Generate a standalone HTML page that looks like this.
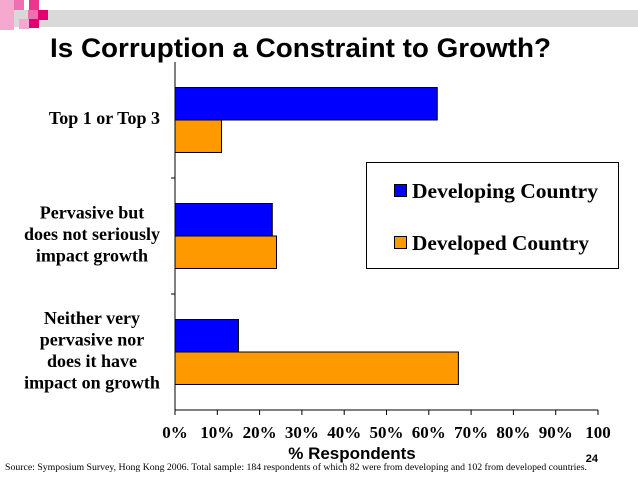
<!DOCTYPE html>
<html><head><meta charset="utf-8"><style>
body{margin:0;background:#fff;width:638px;height:479px;overflow:hidden}
svg{display:block}
</style></head><body>
<svg id="c" width="638" height="479" xmlns="http://www.w3.org/2000/svg">
<g>
<rect x="10" y="10" width="628" height="17" fill="#d9d9d9"/>
<rect x="0" y="0" width="14" height="30" fill="#f7a8cf"/>
<rect x="14" y="0" width="10" height="10" fill="#f06fb0"/>
<rect x="29" y="0" width="10" height="10" fill="#e8378f"/>
<rect x="28" y="10" width="10" height="10" fill="#f06fb0"/>
<rect x="38" y="10" width="10" height="10" fill="#e0006f"/>
<rect x="19" y="19" width="10" height="10" fill="#f7a8cf"/>
<rect x="29" y="19" width="10" height="9" fill="#e0006f"/>
</g>
<text x="50" y="57" font-family="Liberation Sans, sans-serif" font-weight="bold" font-size="27" textLength="501" lengthAdjust="spacingAndGlyphs" fill="#000">Is Corruption a Constraint to Growth?</text>
<g id="plot"></g>
<g>
<rect x="366.5" y="162.5" width="252" height="106" fill="#fff" stroke="#000"/>
<rect x="394.5" y="184.5" width="12" height="12" fill="#0000ff" stroke="#000"/>
<text x="412" y="198" font-family="Liberation Serif, serif" font-weight="bold" font-size="21" textLength="186" lengthAdjust="spacingAndGlyphs">Developing Country</text>
<rect x="394.5" y="236.5" width="12" height="12" fill="#ff9900" stroke="#000"/>
<text x="412" y="250" font-family="Liberation Serif, serif" font-weight="bold" font-size="21" textLength="177" lengthAdjust="spacingAndGlyphs">Developed Country</text>
</g>
<text x="352" y="459" text-anchor="middle" font-family="Liberation Sans, sans-serif" font-weight="bold" font-size="17">% Respondents</text>
<text x="598" y="462" text-anchor="end" font-family="Liberation Sans, sans-serif" font-weight="bold" font-size="11">24</text>
<text x="5" y="470" font-family="Liberation Serif, serif" font-size="9.5" textLength="582" lengthAdjust="spacingAndGlyphs">Source: Symposium Survey, Hong Kong 2006. Total sample: 184 respondents of which 82 were from developing and 102 from developed countries.</text>
</svg>
<script>
const categories=[["Top 1 or Top 3"],["Pervasive but","does not seriously","impact growth"],["Neither very","pervasive nor","does it have","impact on growth"]];
const developing=[62,23,15];
const developed=[11,24,67];
const ticks=[0,10,20,30,40,50,60,70,80,90,100];
const NS="http://www.w3.org/2000/svg";
const g=document.getElementById('plot');
const X0=175,X1=598,Y0=62,Y1=410;
const xs=v=>X0+(X1-X0)*v/100;
const band=(Y1-Y0)/categories.length;
function mk(t,a){const e=document.createElementNS(NS,t);for(const k in a)e.setAttribute(k,a[k]);g.appendChild(e);return e;}
categories.forEach((lines,i)=>{
  const top=Y0+band*i, bh=band*0.28, mid=top+band/2;
  const b1=mk('rect',{x:xs(0),y:mid-bh,width:xs(developing[i])-xs(0),height:bh,fill:'#0000ff',stroke:'#000'});
  
  
  const b2=mk('rect',{x:xs(0),y:mid,width:xs(developed[i])-xs(0),height:bh,fill:'#ff9900',stroke:'#000'});
  
  
  const lh=21.5, sy=mid-(lines.length-1)*lh/2+4;
  const single=lines.length===1;
  lines.forEach((l,j)=>{
    const t=mk('text',{x:single?160:92,y:sy+j*lh,'text-anchor':single?'end':'middle','font-family':'Liberation Serif, serif','font-weight':'bold','font-size':'18'});
    t.textContent=l;
    
    
  });
  if(i>0){const tk=mk('line',{x1:X0-4,x2:X0,y1:top,y2:top,stroke:'#000'});
  
  }
});
const ya=mk('line',{x1:X0,x2:X0,y1:Y0,y2:Y1,stroke:'#000'});


const xa=mk('line',{x1:X0,x2:X1,y1:Y1,y2:Y1,stroke:'#000'});


ticks.forEach(v=>{
  const l=mk('line',{x1:xs(v),x2:xs(v),y1:Y1,y2:Y1+5,stroke:'#000'});
  
  
  const t=mk('text',{x:xs(v),y:438,'text-anchor':'middle','font-family':'Liberation Serif, serif','font-weight':'bold','font-size':'17'});
  t.textContent=v===100?'100':v+'%';
  
  
});
</script>
</body></html>
